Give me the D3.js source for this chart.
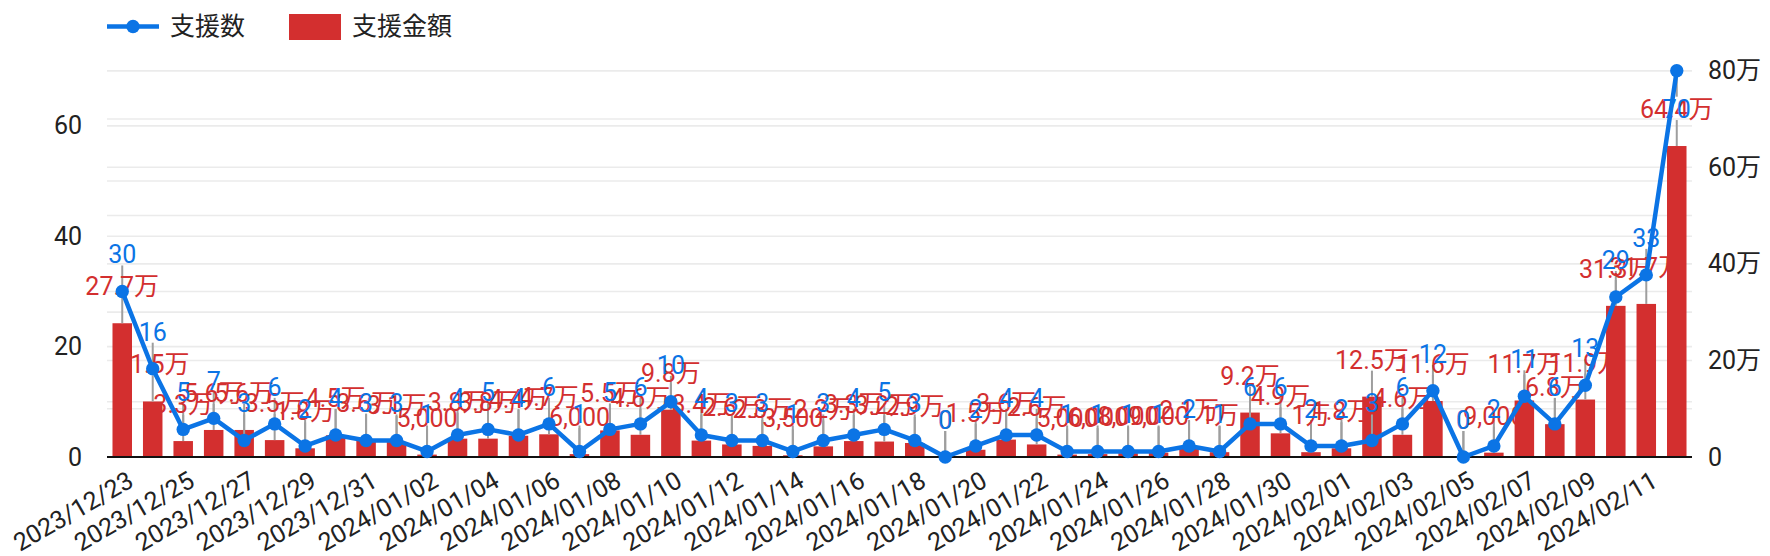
<!DOCTYPE html>
<html>
<head>
<meta charset="utf-8">
<script src="https://cdn.jsdelivr.net/npm/d3@7/dist/d3.min.js"></script>
<style>
  body { margin: 0; background: #fff; }
  svg text { font-family: Roboto, "Noto Sans CJK JP", sans-serif; }
</style>
</head>
<body>
<svg id="chart" width="1770" height="556"></svg>
<script>
// dates (one per bar)
var dates = [
  "2023/12/23","2023/12/24","2023/12/25","2023/12/26","2023/12/27","2023/12/28","2023/12/29",
  "2023/12/30","2023/12/31","2024/01/01","2024/01/02","2024/01/03","2024/01/04","2024/01/05",
  "2024/01/06","2024/01/07","2024/01/08","2024/01/09","2024/01/10","2024/01/11","2024/01/12",
  "2024/01/13","2024/01/14","2024/01/15","2024/01/16","2024/01/17","2024/01/18","2024/01/19",
  "2024/01/20","2024/01/21","2024/01/22","2024/01/23","2024/01/24","2024/01/25","2024/01/26",
  "2024/01/27","2024/01/28","2024/01/29","2024/01/30","2024/01/31","2024/02/01","2024/02/02",
  "2024/02/03","2024/02/04","2024/02/05","2024/02/06","2024/02/07","2024/02/08","2024/02/09",
  "2024/02/10","2024/02/11","2024/02/12"
];

// 支援数 (line, left axis)
var counts = [30,16,5,7,3,6,2,4,3,3, 1,4,5,4,6,1,5,6,10,4, 3,3,1,3,4,5,3,0,2,4,
              4,1,1,1,1,2,1,6,6,2, 2,3,6,12,0,2,11,6,13,29, 33,70];

// 支援金額 (bars, right axis, yen)
var amounts = [277000,115000,33000,56000,56000,35000,18000,45000,36000,31000,
               5000,38000,38000,44000,47000,6000,55000,46000,98000,34000,
               26000,23000,3500,22000,33000,32000,29000,0,15000,36000,
               26000,5000,6000,8000,9000,21000,10000,92000,49000,10000,
               18000,125000,46000,116000,0,9000,117000,68000,119000,313000,
               317000,644000];

var leftTicks = [0, 20, 40, 60];
var rightTicks = [0, 200000, 400000, 600000, 800000];

var svg = d3.select("#chart");
var blue = "#0b74e5";
var red = "#d32f2f";
var plotLeft = 107, plotRight = 1692, plotTop = 70.7, plotBottom = 457;

var x = d3.scaleBand().domain(dates).range([plotLeft, plotRight]).paddingInner(0.36).paddingOuter(0.18);
var yL = d3.scaleLinear().domain([0, 70]).range([plotBottom, plotTop]);
var yR = d3.scaleLinear().domain([0, 800000]).range([plotBottom, plotTop]);
var cx = function(d) { return x(d) + x.bandwidth() / 2; };

function fmtAmount(v) {
  if (v >= 10000) return d3.format("~")(+(v / 10000).toFixed(1)) + "万";
  return d3.format(",")(v);
}

// gridlines
var grid = svg.append("g");
grid.selectAll(".gl").data(d3.range(10, 71, 10)).enter().append("line")
  .attr("x1", plotLeft).attr("x2", plotRight)
  .attr("y1", function(d) { return yL(d); }).attr("y2", function(d) { return yL(d); })
  .attr("stroke", "#ebebeb").attr("stroke-width", 1.6);
grid.selectAll(".gr").data(d3.range(100000, 800001, 100000)).enter().append("line")
  .attr("x1", plotLeft).attr("x2", plotRight)
  .attr("y1", function(d) { return yR(d); }).attr("y2", function(d) { return yR(d); })
  .attr("stroke", "#ebebeb").attr("stroke-width", 1.6);

// axes
var axL = svg.append("g").attr("transform", "translate(82,0)")
  .call(d3.axisLeft(yL).tickValues(leftTicks).tickSize(0).tickPadding(0));
var axR = svg.append("g").attr("transform", "translate(1708,0)")
  .call(d3.axisRight(yR).tickValues(rightTicks).tickSize(0).tickPadding(0)
    .tickFormat(function(v) { return v ? (v / 10000) + "万" : "0"; }));
var axB = svg.append("g").attr("transform", "translate(0," + plotBottom + ")")
  .call(d3.axisBottom(x).tickValues(dates.filter(function(d, i) { return i % 2 === 0; }))
    .tickSize(0).tickPadding(0));
[axL, axR, axB].forEach(function(a) {
  a.select(".domain").remove();
  a.selectAll("text").attr("font-size", 25).attr("fill", "#222")
    .style("font-family", "Roboto, 'Noto Sans CJK JP', sans-serif");
});
axB.selectAll("text")
  .attr("y", 0).attr("dy", "0.71em")
  .attr("text-anchor", "end")
  .attr("transform", "translate(4,13) rotate(-30)");

// bars
svg.append("g").selectAll("rect").data(dates).enter().append("rect")
  .attr("x", function(d) { return x(d); })
  .attr("width", x.bandwidth())
  .attr("y", function(d, i) { return yR(amounts[i]); })
  .attr("height", function(d, i) { return plotBottom - yR(amounts[i]); })
  .attr("fill", red);

// baseline
svg.append("line").attr("x1", plotLeft).attr("x2", plotRight)
  .attr("y1", plotBottom).attr("y2", plotBottom).attr("stroke", "#111").attr("stroke-width", 2);

// annotation stems
var stem = 26, gap = 28;
function flip(yv) { return yv - gap - 18 < plotTop; }
var stems = svg.append("g");
stems.selectAll(".sb").data(dates).enter().append("line")
  .attr("x1", cx).attr("x2", cx)
  .attr("y1", function(d, i) { return yR(amounts[i]); })
  .attr("y2", function(d, i) { return yR(amounts[i]) - stem; })
  .attr("stroke", "#9e9e9e").attr("stroke-width", 2);
stems.selectAll(".sl").data(dates).enter().append("line")
  .attr("x1", cx).attr("x2", cx)
  .attr("y1", function(d, i) { return yL(counts[i]); })
  .attr("y2", function(d, i) {
    var yv = yL(counts[i]);
    return flip(yv) ? yv + stem : yv - stem;
  })
  .attr("stroke", "#9e9e9e").attr("stroke-width", 2);

// amount labels
svg.append("g").selectAll("text").data(dates).enter().append("text")
  .attr("x", cx)
  .attr("y", function(d, i) { return yR(amounts[i]) - gap; })
  .attr("text-anchor", "middle")
  .attr("font-size", 25)
  .attr("fill", red)
  .text(function(d, i) { return fmtAmount(amounts[i]); });

// count line + points
var line = d3.line().x(cx).y(function(d, i) { return yL(counts[i]); });
svg.append("path").datum(dates).attr("d", line)
  .attr("fill", "none").attr("stroke", blue).attr("stroke-width", 4.5)
  .attr("stroke-linejoin", "round");
svg.append("g").selectAll("circle").data(dates).enter().append("circle")
  .attr("cx", cx).attr("cy", function(d, i) { return yL(counts[i]); })
  .attr("r", 6.7).attr("fill", blue);

// count labels
svg.append("g").selectAll("text").data(dates).enter().append("text")
  .attr("x", cx)
  .attr("y", function(d, i) {
    var yv = yL(counts[i]);
    return flip(yv) ? yv + gap + 19 : yv - gap;
  })
  .attr("text-anchor", "middle")
  .attr("font-size", 25)
  .attr("fill", blue)
  .text(function(d, i) { return counts[i]; });

// legend
var lg = svg.append("g");
lg.append("line").attr("x1", 107).attr("x2", 159).attr("y1", 26.5).attr("y2", 26.5)
  .attr("stroke", blue).attr("stroke-width", 4.5);
lg.append("circle").attr("cx", 133).attr("cy", 26.5).attr("r", 6.7).attr("fill", blue);
lg.append("text").attr("x", 170).attr("y", 26).attr("dy", "0.36em")
  .attr("font-size", 25).attr("fill", "#222").text("支援数");
lg.append("rect").attr("x", 289).attr("y", 14).attr("width", 52).attr("height", 26).attr("fill", red);
lg.append("text").attr("x", 352).attr("y", 26).attr("dy", "0.36em")
  .attr("font-size", 25).attr("fill", "#222").text("支援金額");
</script>
</body>
</html>
